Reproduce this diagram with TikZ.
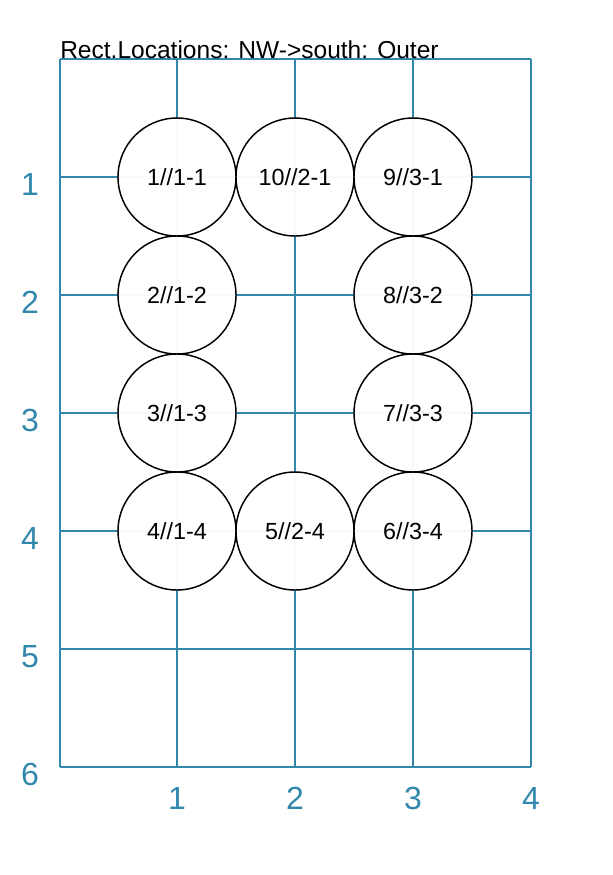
\documentclass[tikz,border=0pt]{standalone}
\usepackage{fontspec}
\setmainfont{Liberation Sans}
\definecolor{gridc}{RGB}{49,135,172}
\begin{document}
\begin{tikzpicture}[x=0.75pt,y=-0.75pt,
  gridline/.style={draw=gridc,line width=1.4pt},
  loc/.style={circle,draw=black,line width=1.1pt,fill=white,fill opacity=0.96,text opacity=1,
    minimum size=88.5pt,inner sep=0pt,font=\fontsize{17.5}{20}\selectfont},
  axlab/.style={text=gridc,font=\fontsize{24}{28}\selectfont,anchor=base,inner sep=0pt}]
\useasboundingbox (0,0) rectangle (613,875);
% grid
\foreach \x in {60,177,295,413,531} \draw[gridline] (\x,59) -- (\x,767);
\foreach \y in {59,177,295,413,531,649,767} \draw[gridline] (60,\y) -- (531,\y);
% title
\node[anchor=base west,inner sep=0pt,font=\fontsize{18.4}{21}\selectfont] (title) at (60,58) {Rect.Locations: NW->south: Outer};
% axis labels
\foreach \i/\y in {1/177,2/295,3/413,4/531,5/649,6/767}
  \node[axlab] (r\i) at (30,\y+18) {\i};
\foreach \i/\x in {1/177,2/295,3/413,4/531}
  \node[axlab] (c\i) at (\x,809) {\i};
% locations
\node[loc] (n1) at (177,177) {1//1-1};
\node[loc] (n10) at (295,177) {10//2-1};
\node[loc] (n9) at (413,177) {9//3-1};
\node[loc] (n2) at (177,295) {2//1-2};
\node[loc] (n8) at (413,295) {8//3-2};
\node[loc] (n3) at (177,413) {3//1-3};
\node[loc] (n7) at (413,413) {7//3-3};
\node[loc] (n4) at (177,531) {4//1-4};
\node[loc] (n5) at (295,531) {5//2-4};
\node[loc] (n6) at (413,531) {6//3-4};
\end{tikzpicture}
\end{document}
